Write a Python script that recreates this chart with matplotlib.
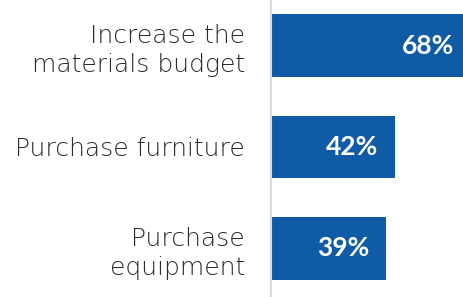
import matplotlib
matplotlib.use("Agg")
import matplotlib.pyplot as plt

# data
categories = ["Increase the\nmaterials budget", "Purchase furniture", "Purchase\nequipment"]
values = [68, 42, 39]
value_labels = ["68%", "42%", "39%"]

bar_color = "#105BA6"
text_color = "#2b2b2b"

fig = plt.figure(figsize=(4.63, 2.97), dpi=100)
ax = fig.add_axes([271 / 463, 0, 1 - 271 / 463, 1])

pos = list(range(len(categories)))
ax.barh(pos, values, height=0.62, color=bar_color)

# chart is cropped at the right edge, so the top bar runs off the picture
ax.set_xlim(0, 65.1)
ax.set_ylim(2.48, -0.45)

for p, v, lab in zip(pos, values, value_labels):
    ax.annotate(lab, xy=(v, p), xytext=(-17 * 72 / 100, 0), textcoords="offset points",
                ha="right", va="center", color="white", fontsize=19,
                fontweight="bold", family="Lato", annotation_clip=False)

ax.set_yticks(pos)
ax.set_yticklabels(categories, fontsize=18, color=text_color, family="DejaVu Sans",
                   fontweight="light", linespacing=1.25)
ax.tick_params(axis="y", length=0, pad=18.7)
ax.set_xticks([])

for s in ["top", "right", "bottom"]:
    ax.spines[s].set_visible(False)
ax.spines["left"].set_color("#d9d9d9")
ax.spines["left"].set_linewidth(1.5)

fig.savefig("out.png", dpi=100)
